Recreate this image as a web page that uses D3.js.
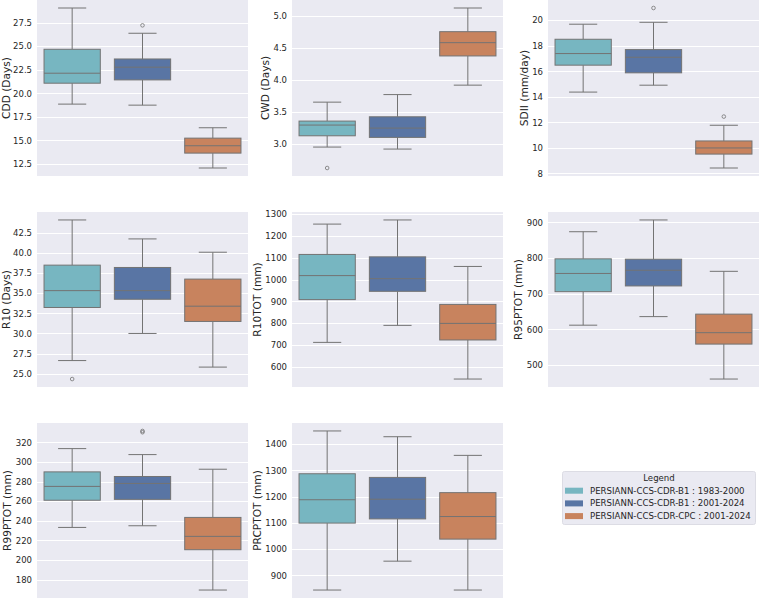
<!DOCTYPE html>
<html>
<head>
<meta charset="utf-8">
<script src="https://cdn.jsdelivr.net/npm/d3@7/dist/d3.min.js"></script>
<style>
  html, body { margin: 0; padding: 0; background: #ffffff; }
  svg { display: block; font-family: "DejaVu Sans", sans-serif; }
</style>
</head>
<body>
<svg id="chart" width="760" height="599"></svg>
<script>
// ---------------- DATA ----------------
const categories = [
  "PERSIANN-CCS-CDR-B1 : 1983-2000",
  "PERSIANN-CCS-CDR-B1 : 2001-2024",
  "PERSIANN-CCS-CDR-CPC : 2001-2024"
];
const indices = ["CDD", "CWD", "SDII", "R10", "R10TOT", "R95PTOT", "R99PTOT", "PRCPTOT"];
const yLabels = ["CDD (Days)", "CWD (Days)", "SDII (mm/day)", "R10 (Days)",
                 "R10TOT (mm)", "R95PTOT (mm)", "R99PTOT (mm)", "PRCPTOT (mm)"];

// per index: [series1, series2, series3]
const whiskerLow  = [[18.86, 18.75, 12.08], [2.953, 2.922, 3.918], [14.37, 14.91, 8.42], [26.64, 30.0, 25.83],
                     [712, 790, 544], [612, 636, 461], [233.3, 235.0, 169.5], [844, 954, 844]];
const q1          = [[21.08, 21.43, 13.66], [3.129, 3.104, 4.373], [16.48, 15.88, 9.51], [33.22, 34.24, 31.49],
                     [908, 946, 723], [706, 722, 559], [261.0, 261.9, 210.6], [1099, 1115, 1038]];
const medians     = [[22.14, 22.78, 14.44], [3.296, 3.249, 4.580], [17.39, 17.10, 9.99], [35.31, 35.31, 33.38],
                     [1018, 1004, 799], [757, 766, 591], [275.1, 278.1, 224.2], [1188, 1190, 1124]];
const q3          = [[24.68, 23.65, 15.25], [3.358, 3.425, 4.751], [18.51, 17.70, 10.54], [38.47, 38.18, 36.74],
                     [1115, 1104, 886], [798, 797, 643], [289.9, 285.2, 243.5], [1287, 1273, 1215]];
const whiskerHigh = [[29.06, 26.38, 16.35], [3.653, 3.771, 5.120], [19.69, 19.84, 11.77], [44.07, 41.72, 40.07],
                     [1254, 1273, 1060], [874, 907, 763], [313.6, 307.5, 292.6], [1450, 1428, 1357]];
const outliers    = [[[], [27.22], []], [[2.627], [], []], [[], [20.96], [12.45]], [[24.35], [], []],
                     [[], [], []], [[], [], []], [[], [330.3, 331.6], []], [[], [], []]];

const tickValues = [
  [12.5, 15.0, 17.5, 20.0, 22.5, 25.0, 27.5],
  [3.0, 3.5, 4.0, 4.5, 5.0],
  [8, 10, 12, 14, 16, 18, 20],
  [25.0, 27.5, 30.0, 32.5, 35.0, 37.5, 40.0, 42.5],
  [600, 700, 800, 900, 1000, 1100, 1200, 1300],
  [500, 600, 700, 800, 900],
  [180, 200, 220, 240, 260, 280, 300, 320],
  [900, 1000, 1100, 1200, 1300, 1400]
];
const tickFormats = [".1f", ".1f", "d", ".1f", "d", "d", "d", "d"];
const legendTitle = "Legend";

// ---------------- STYLE / LAYOUT ----------------
const colors = ["#77B6C1", "#5975A4", "#C8835E"];
const bg = "#EAEAF2";
const lineColor = "#737373";
const textColor = "#262626";
const colX = [[37, 248], [292, 503], [548, 759]];
const rowY = [[0, 176], [212, 387], [423, 598]];

const svg = d3.select("#chart");

indices.forEach((name, i) => {
  const col = i % 3, row = Math.floor(i / 3);
  const [x0, x1] = colX[col];
  const [y0, y1] = rowY[row];

  // y domain: data extent with 5% margins (matplotlib autoscale)
  const allVals = [].concat(whiskerLow[i], whiskerHigh[i], ...outliers[i]);
  const mn = d3.min(allVals), mx = d3.max(allVals);
  const pad = (mx - mn) * 0.05;
  const y = d3.scaleLinear().domain([mn - pad, mx + pad]).range([y1, y0]);
  const x = d3.scaleBand().domain(d3.range(categories.length)).range([x0, x1])
              .paddingInner(0.2).paddingOuter(0.1);

  const g = svg.append("g").attr("class", "panel panel-" + name);

  g.append("rect").attr("x", x0).attr("y", y0).attr("width", x1 - x0).attr("height", y1 - y0)
    .attr("fill", bg);

  // grid + y axis
  const axis = d3.axisLeft(y).tickValues(tickValues[i]).tickFormat(d3.format(tickFormats[i]))
                 .tickSize(0).tickPadding(5);
  const ax = g.append("g").attr("transform", `translate(${x0},0)`).call(axis);
  ax.select(".domain").remove();
  ax.selectAll("text").attr("fill", textColor).attr("font-size", "8.5px")
    .attr("font-family", "DejaVu Sans, sans-serif");

  g.append("g").selectAll("line").data(tickValues[i]).join("line")
    .attr("x1", x0).attr("x2", x1)
    .attr("y1", d => Math.round(y(d)) + 0.5).attr("y2", d => Math.round(y(d)) + 0.5)
    .attr("stroke", "#ffffff").attr("stroke-width", 1);

  // boxes
  categories.forEach((c, s) => {
    const bx = x(s), bw = x.bandwidth(), cx = bx + bw / 2;
    const cap = bw / 4;
    const bgp = g.append("g").attr("class", "box");
    // whiskers
    bgp.append("line").attr("x1", cx).attr("x2", cx)
      .attr("y1", y(q3[i][s])).attr("y2", y(whiskerHigh[i][s]))
      .attr("stroke", lineColor).attr("stroke-width", 1);
    bgp.append("line").attr("x1", cx).attr("x2", cx)
      .attr("y1", y(q1[i][s])).attr("y2", y(whiskerLow[i][s]))
      .attr("stroke", lineColor).attr("stroke-width", 1);
    bgp.append("line").attr("x1", cx - cap).attr("x2", cx + cap)
      .attr("y1", y(whiskerHigh[i][s])).attr("y2", y(whiskerHigh[i][s]))
      .attr("stroke", lineColor).attr("stroke-width", 1);
    bgp.append("line").attr("x1", cx - cap).attr("x2", cx + cap)
      .attr("y1", y(whiskerLow[i][s])).attr("y2", y(whiskerLow[i][s]))
      .attr("stroke", lineColor).attr("stroke-width", 1);
    // box
    bgp.append("rect").attr("x", bx).attr("width", bw)
      .attr("y", y(q3[i][s])).attr("height", y(q1[i][s]) - y(q3[i][s]))
      .attr("fill", colors[s]).attr("stroke", lineColor).attr("stroke-width", 1);
    // median
    bgp.append("line").attr("x1", bx).attr("x2", bx + bw)
      .attr("y1", y(medians[i][s])).attr("y2", y(medians[i][s]))
      .attr("stroke", lineColor).attr("stroke-width", 1);
    // outliers
    bgp.selectAll("circle").data(outliers[i][s]).join("circle")
      .attr("cx", cx).attr("cy", d => y(d)).attr("r", 1.8)
      .attr("fill", "none").attr("stroke", lineColor).attr("stroke-width", 0.8);
  });

  // y label
  const tickBox = ax.node().getBBox();
  const labelX = Math.max(tickBox.x + x0 - 4.5, 9.5);
  g.append("text")
    .attr("transform", `translate(${labelX},${(y0 + y1) / 2}) rotate(-90)`)
    .attr("text-anchor", "middle")
    .attr("fill", textColor).attr("font-size", "10.6px")
    .text(yLabels[i]);
});

// ---------------- LEGEND ----------------
const lg = svg.append("g").attr("class", "legend");
lg.append("rect").attr("x", 562.5).attr("y", 471.5).attr("width", 193).attr("height", 53)
  .attr("rx", 2).attr("fill", bg).attr("stroke", "#dcdce4").attr("stroke-width", 1);
lg.append("text").attr("x", 659).attr("y", 481).attr("text-anchor", "middle")
  .attr("fill", textColor).attr("font-size", "8.6px").text(legendTitle);
categories.forEach((c, s) => {
  const cy = 490.7 + s * 12.7;
  lg.append("rect").attr("x", 565).attr("y", cy - 3).attr("width", 18).attr("height", 6)
    .attr("fill", colors[s]);
  lg.append("text").attr("x", 590).attr("y", cy + 3)
    .attr("fill", textColor).attr("font-size", "8.6px").text(c);
});
</script>
</body>
</html>
